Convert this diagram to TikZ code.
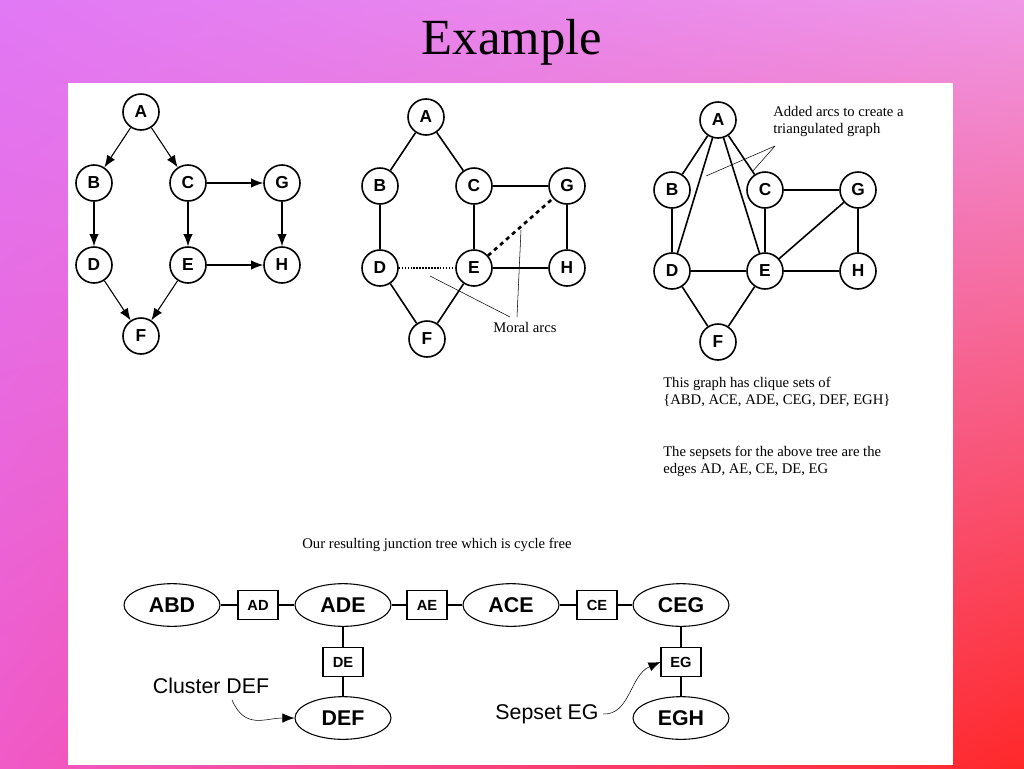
\documentclass[tikz,border=0pt]{standalone}
\usepackage{fontspec}
\setmainfont{Liberation Serif}
\setsansfont{Liberation Sans}
\usetikzlibrary{shapes.geometric,arrows.meta,shadings}
\definecolor{bgul}{RGB}{225,120,245}
\definecolor{bgur}{RGB}{240,150,230}
\definecolor{bgll}{RGB}{240,90,200}
\definecolor{bglr}{RGB}{255,40,40}
\tikzset{
  vertex/.style={circle,draw,very thick,fill=white,minimum size=27pt,inner sep=0pt,font=\sffamily\bfseries\fontsize{13}{13}\selectfont},
  clique/.style={ellipse,draw,thick,fill=white,minimum width=72pt,minimum height=32pt,inner sep=0pt,font=\sffamily\bfseries\fontsize{16}{16}\selectfont},
  sepset/.style={rectangle,draw,thick,fill=white,minimum width=30pt,minimum height=22pt,inner sep=0pt,font=\sffamily\bfseries\fontsize{11}{11}\selectfont},
  arc/.style={-{Latex[length=9pt,width=7pt]},thick},
  link/.style={very thick},
  note/.style={font=\fontsize{11}{13}\selectfont,align=left,inner sep=0pt}
}
\begin{document}
\begin{tikzpicture}[x=0.75pt,y=-0.75pt]
\shade[upper left=bgul,upper right=bgur,lower left=bgll,lower right=bglr]
  (0,0) rectangle (1024,768);
\useasboundingbox (0,0) rectangle (1024,768);
\fill[white] (68,83) rectangle (953,765);
\node[font=\fontsize{38}{38}\selectfont] (title) at (512,42) {Example};

% Directed graph
\node[vertex] (a1) at (141,112) {A};
\node[vertex] (b1) at (94,183) {B};
\node[vertex] (c1) at (188,183) {C};
\node[vertex] (g1) at (282,183) {G};
\node[vertex] (d1) at (94,265) {D};
\node[vertex] (e1) at (188,265) {E};
\node[vertex] (h1) at (282,265) {H};
\node[vertex] (f1) at (141,336) {F};
\foreach \s/\t in {a1/b1,a1/c1,c1/g1,b1/d1,c1/e1,g1/h1,e1/h1,d1/f1,e1/f1}
  \draw[arc] (\s) -- (\t);

% Moral graph
\node[vertex] (a2) at (426,117) {A};
\node[vertex] (b2) at (380,186) {B};
\node[vertex] (c2) at (474,186) {C};
\node[vertex] (g2) at (567,186) {G};
\node[vertex] (d2) at (380,268) {D};
\node[vertex] (e2) at (474,268) {E};
\node[vertex] (h2) at (567,268) {H};
\node[vertex] (f2) at (427,339) {F};
\foreach \s/\t in {a2/b2,a2/c2,b2/d2,c2/g2,c2/e2,g2/h2,e2/h2,d2/f2,e2/f2}
  \draw[link] (\s) -- (\t);
\draw[link,densely dotted,line width=2pt] (d2) -- (e2);
\draw[link,dashed,line width=2pt] (e2) -- (g2);
\node[note] (moral) at (525,327) {Moral arcs};
\coordinate (m1) at (430,276);
\coordinate (m2) at (521,230);
\coordinate (mp) at (510,317);
\coordinate (mq) at (517,317);
\draw (mp) -- (m1);
\draw (mq) -- (m2);

% Triangulated graph
\node[vertex] (a3) at (718,120) {A};
\node[vertex] (b3) at (672,190) {B};
\node[vertex] (c3) at (765,190) {C};
\node[vertex] (g3) at (858,190) {G};
\node[vertex] (d3) at (672,271) {D};
\node[vertex] (e3) at (765,271) {E};
\node[vertex] (h3) at (858,271) {H};
\node[vertex] (f3) at (718,342) {F};
\foreach \s/\t in {a3/b3,a3/c3,a3/d3,a3/e3,b3/d3,c3/g3,c3/e3,d3/e3,e3/h3,g3/h3,e3/g3,d3/f3,e3/f3}
  \draw[link] (\s) -- (\t);
\node[note,anchor=north west] (added) at (773,106) {Added arcs to create a\\triangulated graph};
\coordinate (t0) at (775,146);
\coordinate (t1) at (706,176);
\coordinate (t2) at (752,172);
\draw (t0) -- (t1);
\draw (t0) -- (t2);

\node[note,anchor=north west] (clq) at (663,377) {This graph has clique sets of\\\{ABD, ACE, ADE, CEG, DEF, EGH\}};
\node[note,anchor=north west] (sep) at (663,446) {The sepsets for the above tree are the\\edges AD, AE, CE, DE, EG};
\node[note] (res) at (437,545) {Our resulting junction tree which is cycle free};

% Junction tree
\node[clique] (abd) at (172,605) {ABD};
\node[clique] (ade) at (343,605) {ADE};
\node[clique] (ace) at (511,605) {ACE};
\node[clique] (ceg) at (681,605) {CEG};
\node[clique] (def) at (343,718) {DEF};
\node[clique] (egh) at (681,718) {EGH};
\node[sepset] (ad) at (258,605) {AD};
\node[sepset] (ae) at (427,605) {AE};
\node[sepset] (ce) at (597,605) {CE};
\node[sepset] (de) at (343,662) {DE};
\node[sepset] (eg) at (681,662) {EG};
\foreach \s/\t in {abd/ad,ad/ade,ade/ae,ae/ace,ace/ce,ce/ceg,ade/de,de/def,ceg/eg,eg/egh}
  \draw[thick] (\s) -- (\t);

\node[font=\sffamily\fontsize{16}{16}\selectfont] (cl) at (211,686) {Cluster DEF};
\node[font=\sffamily\fontsize{16}{16}\selectfont] (sg) at (547,714) {Sepset EG};
\coordinate (c0) at (232,700);
\draw[arc,thin] (c0) .. controls (245,730) and (265,718) .. (def.west);
\draw[arc,thin] (sg.east) .. controls (630,715) and (630,675) .. (eg.west);
\end{tikzpicture}
\end{document}
